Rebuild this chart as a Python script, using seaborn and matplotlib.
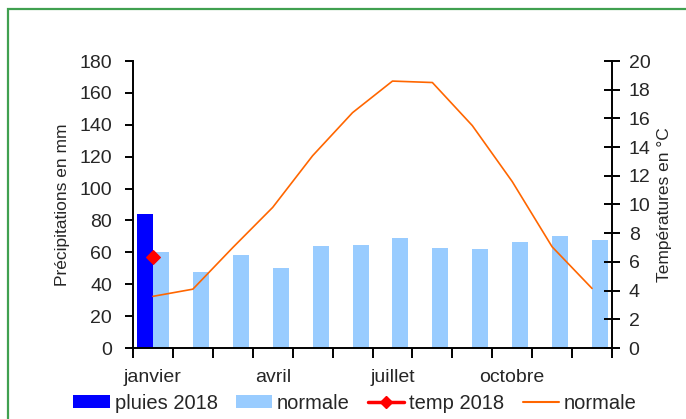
import numpy as np
import pandas as pd
import matplotlib
matplotlib.use("Agg")
import matplotlib.pyplot as plt
from matplotlib.patches import Rectangle, Patch
from matplotlib.lines import Line2D
import seaborn as sns

mois = ["janvier", "février", "mars", "avril", "mai", "juin",
        "juillet", "août", "septembre", "octobre", "novembre", "décembre"]
mois_affiches = ["janvier", "avril", "juillet", "octobre"]
pluies_2018 = [84.0] + [np.nan] * 11
pluies_normale = [60.1, 47.6, 58.3, 50.1, 63.9, 64.5, 68.9, 62.7, 62.0, 66.4, 70.2, 67.7]
temp_2018 = [6.36] + [np.nan] * 11
temp_normale = [3.6, 4.1, 7.0, 9.8, 13.4, 16.4, 18.6, 18.5, 15.5, 11.6, 7.05, 4.15]

sns.set_theme(style="white")
plt.rcParams["font.family"] = ["Liberation Sans", "DejaVu Sans"]
plt.rcParams["font.size"] = 14

c_pluie = "#0000ff"
c_norm = "#99ccff"
c_temp = "#ff0000"
c_tnorm = "#ff6600"

fig = plt.figure(figsize=(6.86, 4.19), dpi=100)
ax = fig.add_axes([133 / 686, 1 - 348 / 419, (612 - 133) / 686, (348 - 61) / 419])

df = pd.DataFrame({
    "mois": mois * 2,
    "valeur": pluies_2018 + pluies_normale,
    "serie": ["pluies 2018"] * 12 + ["normale"] * 12,
})
sns.barplot(data=df, x="mois", y="valeur", hue="serie", order=mois,
            hue_order=["pluies 2018", "normale"],
            palette=[c_pluie, c_norm], saturation=1, width=0.8,
            errorbar=None, linewidth=0, ax=ax, legend=False)

ax.set_xlim(-0.5, 11.5)
ax.set_ylim(0, 180)
ax.set_yticks(np.arange(0, 181, 20))
ax.set_ylabel("Précipitations en mm", fontsize=12.5, labelpad=7)
ax.set_xlabel("")

ax2 = ax.twinx()
pos = np.arange(len(mois))
sns.lineplot(x=pos, y=temp_normale, color=c_tnorm, linewidth=1.2, ax=ax2,
             sort=False)
sns.lineplot(x=pos, y=temp_2018, color=c_temp, marker="D", markersize=7,
             markeredgecolor=c_temp, linewidth=2, ax=ax2, sort=False)
ax2.set_ylim(0, 20)
ax2.set_yticks(np.arange(0, 21, 2))
ax2.set_xlim(-0.5, 11.5)
ax2.set_ylabel("Températures en °C", fontsize=12.5, rotation=90, labelpad=5)

# x ticks: boundaries as major ticks, labels as minor ticks
ax.set_xticks(np.arange(-0.5, 12, 1))
ax.set_xticklabels([])
ax.set_xticks([mois.index(m) for m in mois_affiches], minor=True)
ax.set_xticklabels(mois_affiches, minor=True)
ax.tick_params(axis="x", which="major", direction="out", length=7, width=1.4,
               color="black", bottom=True)
ax.tick_params(axis="x", which="minor", length=0, pad=15, labelsize=14)
ax.tick_params(axis="y", direction="out", length=6, width=1.4, color="black",
               left=True, labelsize=14, pad=9)
ax2.tick_params(axis="y", direction="inout", length=12, width=1.4,
                color="black", right=True, labelsize=14, pad=6)

for a in (ax, ax2):
    a.spines["top"].set_visible(False)
    for s in ["left", "bottom", "right"]:
        a.spines[s].set_color("black")
        a.spines[s].set_linewidth(1.4)
ax.spines["right"].set_visible(False)
ax2.spines["left"].set_visible(False)
ax2.spines["bottom"].set_visible(False)
ax.grid(False)
ax2.grid(False)

handles = [
    Patch(facecolor=c_pluie, edgecolor="none"),
    Patch(facecolor=c_norm, edgecolor="none"),
    Line2D([0], [0], color=c_temp, lw=2.5, marker="D", markersize=6),
    Line2D([0], [0], color=c_tnorm, lw=1.5),
]
labels = ["pluies 2018", "normale", "temp 2018", "normale"]
fig.legend(handles, labels, loc="center", bbox_to_anchor=(355 / 686, 1 - 403 / 419),
           ncol=4, frameon=False, fontsize=14.5, handlelength=1.8,
           handleheight=0.6, columnspacing=0.9, handletextpad=0.25,
           borderpad=0, borderaxespad=0)

fig.patches.append(Rectangle((8 / 686, -0.1), 1.2, 1 - 9 / 419 + 0.1,
                             transform=fig.transFigure, fill=False,
                             edgecolor="#40a050", linewidth=1.6))

fig.savefig("out.png", dpi=100)
